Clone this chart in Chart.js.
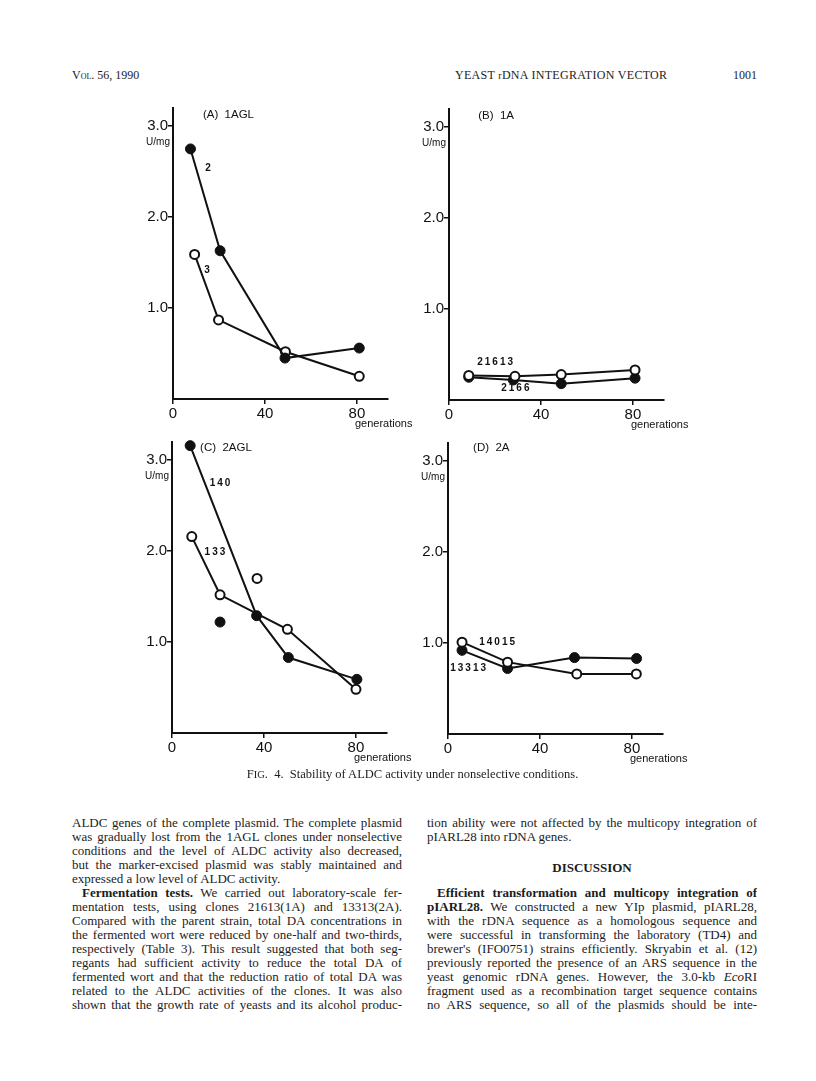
<!DOCTYPE html>
<html>
<head>
<meta charset="utf-8">
<script src="https://cdn.jsdelivr.net/npm/chart.js@4.4.1/dist/chart.umd.min.js"></script>
<style>
  body { margin: 0; width: 816px; height: 1081px; position: relative; overflow: hidden; background: #fff;
         font-family: "Liberation Serif", "Times New Roman", serif; color: #1c1c1c; }
  canvas { position: absolute; }
  .hd { position: absolute; top: 68px; font-size: 12px; white-space: nowrap; }
  .cap { position: absolute; top: 767px; left: 0; width: 825px; text-align: center; font-size: 12.5px; white-space: nowrap; }
  .ln { position: absolute; width: 330px; height: 14px; line-height: 14px; font-size: 13px;
        text-align: justify; text-align-last: justify; overflow: hidden; }
  .ln.end { text-align-last: left; }
  .ln.ind { text-indent: 10px; }
  .L { left: 72px; }
  .R { left: 427px; }
  .disc { position: absolute; left: 427px; width: 330px; top: 860px; text-align: center; font-weight: bold; font-size: 13px; }
</style>
</head>
<body>

<div class="hd" style="left:72px;font-variant:small-caps">Vol. 56, 1990</div>
<div class="hd" style="left:455px;letter-spacing:0.3px">YEAST <span style="font-size:10px">r</span>DNA INTEGRATION VECTOR</div>
<div class="hd" style="left:733px">1001</div>

<canvas id="cA" width="315" height="348" style="left:113px;top:96px"></canvas>
<canvas id="cB" width="315" height="348" style="left:389px;top:97px"></canvas>
<canvas id="cC" width="315" height="348" style="left:112px;top:430px"></canvas>
<canvas id="cD" width="315" height="348" style="left:388px;top:431px"></canvas>

<div class="cap">F<span style="font-size:10.5px">IG</span>.&nbsp; 4.&nbsp; Stability of ALDC activity under nonselective conditions.</div>

<div class="ln L" style="top:816px">ALDC genes of the complete plasmid. The complete plasmid</div>
<div class="ln L" style="top:830px">was gradually lost from the 1AGL clones under nonselective</div>
<div class="ln L" style="top:844px">conditions and the level of ALDC activity also decreased,</div>
<div class="ln L" style="top:858px">but the marker-excised plasmid was stably maintained and</div>
<div class="ln L end" style="top:872px">expressed a low level of ALDC activity.</div>
<div class="ln L ind" style="top:886px"><b>Fermentation tests.</b> We carried out laboratory-scale fer-</div>
<div class="ln L" style="top:900px">mentation tests, using clones 21613(1A) and 13313(2A).</div>
<div class="ln L" style="top:914px">Compared with the parent strain, total DA concentrations in</div>
<div class="ln L" style="top:928px">the fermented wort were reduced by one-half and two-thirds,</div>
<div class="ln L" style="top:942px">respectively (Table 3). This result suggested that both seg-</div>
<div class="ln L" style="top:956px">regants had sufficient activity to reduce the total DA of</div>
<div class="ln L" style="top:970px">fermented wort and that the reduction ratio of total DA was</div>
<div class="ln L" style="top:984px">related to the ALDC activities of the clones. It was also</div>
<div class="ln L" style="top:998px">shown that the growth rate of yeasts and its alcohol produc-</div>

<div class="ln R" style="top:816px">tion ability were not affected by the multicopy integration of</div>
<div class="ln R end" style="top:830px">pIARL28 into rDNA genes.</div>
<div class="disc">DISCUSSION</div>
<div class="ln R ind" style="top:886px"><b>Efficient transformation and multicopy integration of</b></div>
<div class="ln R" style="top:900px"><b>pIARL28.</b> We constructed a new YIp plasmid, pIARL28,</div>
<div class="ln R" style="top:914px">with the rDNA sequence as a homologous sequence and</div>
<div class="ln R" style="top:928px">were successful in transforming the laboratory (TD4) and</div>
<div class="ln R" style="top:942px">brewer's (IFO0751) strains efficiently. Skryabin et al. (12)</div>
<div class="ln R" style="top:956px">previously reported the presence of an ARS sequence in the</div>
<div class="ln R" style="top:970px">yeast genomic rDNA genes. However, the 3.0-kb <i>Eco</i>RI</div>
<div class="ln R" style="top:984px">fragment used as a recombination target sequence contains</div>
<div class="ln R" style="top:998px">no ARS sequence, so all of the plasmids should be inte-</div>

<script>
// --- data (generations, ALDC U/mg) ---
const xTicks = [0, 40, 80];
const yTicks = [1, 2, 3];

// (A) 1AGL
const aGen2 = [7.6, 20.5, 48.7, 81];
const aVal2 = [2.75, 1.63, 0.45, 0.56];
const aGen3 = [9.4, 19.8, 48.9, 81];
const aVal3 = [1.59, 0.87, 0.52, 0.25];

// (B) 1A
const bGen21613 = [8.6, 28.7, 48.8, 80.9];
const bVal21613 = [0.27, 0.26, 0.28, 0.33];
const bGen2166 = [8.6, 28, 48.8, 80.9];
const bVal2166 = [0.25, 0.22, 0.18, 0.24];

// (C) 2AGL  (one extra point of each clone is not on the line)
const cGen140 = [7.9, 36.8, 50.6, 80.4];
const cVal140 = [3.16, 1.29, 0.83, 0.59];
const cGen140x = [20.9];
const cVal140x = [1.22];
const cGen133 = [8.6, 20.9, 50.2, 80];
const cVal133 = [2.16, 1.52, 1.14, 0.48];
const cGen133x = [37];
const cVal133x = [1.70];

// (D) 2A
const dGen14015 = [6.1, 25.9, 56, 81.9];
const dVal14015 = [1.01, 0.79, 0.66, 0.66];
const dGen13313 = [6.1, 25.9, 55, 82];
const dVal13313 = [0.92, 0.72, 0.84, 0.83];

const INK = "#111";
const SANS = '"Liberation Sans", Arial, sans-serif';

function pts(gens, vals) {
  return gens.map((g, i) => ({ x: g, y: vals[i] }));
}

function filled(gens, vals, line = true) {
  return {
    data: pts(gens, vals), showLine: line, clip: false,
    borderColor: INK, borderWidth: 2, tension: 0,
    pointRadius: 5, pointBackgroundColor: INK, pointBorderColor: INK, pointBorderWidth: 1
  };
}

function open(gens, vals, line = true) {
  return {
    data: pts(gens, vals), showLine: line, clip: false,
    borderColor: INK, borderWidth: 2, tension: 0,
    pointRadius: 4.5, pointBackgroundColor: "#fff", pointBorderColor: INK, pointBorderWidth: 2
  };
}

// text on each panel: title, U/mg, generations, clone numbers
const panelText = {
  id: "panelText",
  afterDatasetsDraw(chart, args, opts) {
    const { ctx, chartArea } = chart;
    const xs = chart.scales.x, ys = chart.scales.y;
    ctx.save();
    ctx.fillStyle = INK;
    ctx.textBaseline = "middle";

    ctx.font = "11.5px " + SANS;
    ctx.textAlign = "left";
    ctx.fillText(opts.title, xs.getPixelForValue(opts.titleAt[0]), ys.getPixelForValue(opts.titleAt[1]));

    ctx.font = "10px " + SANS;
    ctx.textAlign = "right";
    ctx.fillText("U/mg", chartArea.left - 3, ys.getPixelForValue(3) + 16);

    ctx.font = "11px " + SANS;
    ctx.textAlign = "left";
    ctx.fillText("generations", xs.getPixelForValue(80) - 2, chartArea.bottom + 25);

    ctx.font = "bold 10px " + SANS;
    ctx.letterSpacing = "2px";
    ctx.textAlign = "center";
    opts.labels.forEach(l => {
      ctx.fillText(l.text, xs.getPixelForValue(l.x), ys.getPixelForValue(l.y));
    });
    ctx.restore();
  }
};

function panelConfig(datasets, title, titleAt, labels) {
  return {
    type: "line",
    data: { datasets },
    plugins: [panelText],
    options: {
      responsive: false,
      animation: false,
      events: [],
      layout: { padding: { top: 12, right: 40, left: 0, bottom: 0 } },
      plugins: {
        legend: { display: false },
        tooltip: { enabled: false },
        panelText: { title, titleAt, labels }
      },
      scales: {
        x: {
          type: "linear", min: 0, max: 93.5,
          afterBuildTicks: s => { s.ticks = xTicks.map(v => ({ value: v })); },
          afterFit: s => { s.height = 45; },
          grid: { drawOnChartArea: false, drawTicks: true, tickLength: 5, color: INK, lineWidth: 1.5 },
          border: { color: INK, width: 2 },
          ticks: { color: INK, font: { family: SANS, size: 15 }, padding: 1, maxRotation: 0 }
        },
        y: {
          type: "linear", min: 0, max: 3.2,
          afterBuildTicks: s => { s.ticks = yTicks.map(v => ({ value: v })); },
          afterFit: s => { s.width = 60; },
          grid: { drawOnChartArea: false, drawTicks: true, tickLength: 5, color: INK, lineWidth: 1.5 },
          border: { color: INK, width: 2 },
          ticks: { color: INK, font: { family: SANS, size: 15 }, padding: 0, callback: v => v.toFixed(1) }
        }
      }
    }
  };
}

new Chart(document.getElementById("cA"), panelConfig(
  [filled(aGen2, aVal2), open(aGen3, aVal3)],
  "(A)  1AGL", [13, 3.13],
  [{ text: "2", x: 15.7, y: 2.54 }, { text: "3", x: 15.2, y: 1.42 }]
));

new Chart(document.getElementById("cB"), panelConfig(
  [open(bGen21613, bVal21613), filled(bGen2166, bVal2166)],
  "(B)  1A", [12.7, 3.13],
  [{ text: "21613", x: 20.5, y: 0.41 }, { text: "2166", x: 29.3, y: 0.13 }]
));

new Chart(document.getElementById("cC"), panelConfig(
  [filled(cGen140, cVal140), filled(cGen140x, cVal140x, false),
   open(cGen133, cVal133), open(cGen133x, cVal133x, false)],
  "(C)  2AGL", [12.2, 3.14],
  [{ text: "140", x: 21.3, y: 2.75 }, { text: "133", x: 19.1, y: 1.99 }]
));

new Chart(document.getElementById("cD"), panelConfig(
  [open(dGen14015, dVal14015), filled(dGen13313, dVal13313)],
  "(D)  2A", [10.9, 3.15],
  [{ text: "14015", x: 21.8, y: 1.01 }, { text: "13313", x: 9.2, y: 0.72 }]
));
</script>
</body>
</html>
